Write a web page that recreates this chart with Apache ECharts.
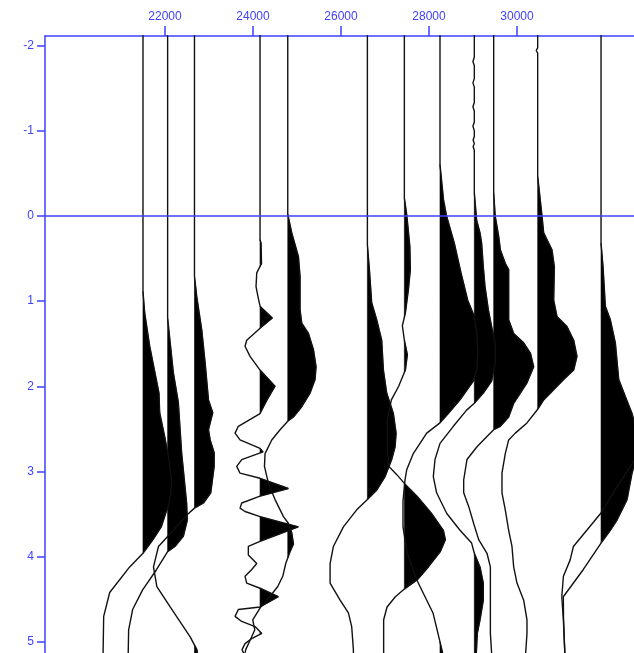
<!DOCTYPE html>
<html><head><meta charset="utf-8">
<script src="https://cdn.jsdelivr.net/npm/echarts@6/dist/echarts.min.js"></script>
<style>html,body{margin:0;padding:0;background:#fff}#c{width:634px;height:653px}</style>
</head><body><div id="c"></div>
<script>
// Axis tick labels
const xTickLabels = [22000, 24000, 26000, 28000, 30000];
const yTickLabels = [-2, -1, 0, 1, 2, 3, 4, 5];
// Trace positions (offset units) and amplitude gain (offset units per amplitude unit)
const traceOffsets = [21500, 22060, 22670, 24160, 24790, 26600, 27440, 28250, 29030, 29470, 30470, 31910, 33200];
const gain = 22.73;
// Each trace: [time, amplitude]
const trace1 = [[-2.2,0],[0.89,0],[1.14,1.7],[1.53,6.7],[1.92,13.3],[2.08,16],[2.31,16.7],[2.59,21.7],[2.86,26],[3.13,29],[3.39,26],[3.47,23.3],[3.65,18.3],[3.80,10],[3.96,0],[4.12,-13.3],[4.42,-33.3],[4.70,-39.3],[5.2,-40]];
const trace2 = [[-2.2,0],[1.20,0],[1.46,2.3],[1.84,5.7],[2.19,10.7],[2.78,14],[3.37,19],[3.57,19.7],[3.76,15.7],[3.88,7.3],[3.94,0],[4.15,-11],[4.39,-25],[4.62,-35],[4.86,-39],[5.2,-39.5]];
const trace3 = [[-2.2,0],[0.71,0],[0.95,2.3],[1.34,7.3],[1.73,10.7],[2.16,14],[2.31,18.3],[2.51,14],[2.63,15.7],[2.78,19.7],[2.94,19.7],[3.25,16.3],[3.37,9],[3.43,0],[3.51,-7.6],[3.76,-26.6],[3.88,-36],[4.12,-41],[4.35,-37.6],[4.59,-24.3],[4.94,-4.3],[5.09,2.4],[5.2,4]];
const trace4 = [[-2.2,0],[0.28,0],[0.32,1],[0.56,1.5],[0.67,-3.3],[0.83,-4],[0.95,-2],[1.06,0],[1.20,12.3],[1.32,0],[1.46,-13.3],[1.53,-15],[1.65,-10],[1.81,0],[2.0,15],[2.16,7],[2.32,0],[2.47,-21.7],[2.55,-25],[2.63,-20],[2.73,0],[2.77,3],[2.86,-18.3],[2.94,-23.3],[3.02,-20],[3.08,0],[3.20,28.3],[3.29,0],[3.37,-18.3],[3.43,-20],[3.47,-15],[3.53,0],[3.65,38.3],[3.82,0],[3.88,-11.7],[3.98,-11.7],[4.08,-3.3],[4.15,-8.3],[4.23,-15],[4.31,-13.3],[4.37,0],[4.47,18.3],[4.59,0],[4.62,-21.7],[4.70,-25],[4.76,-18.3],[4.82,-5],[4.90,1.7],[4.96,-8.3],[5.02,-15],[5.09,-18],[5.2,-14]];
const trace5 = [[-2.2,0],[-0.02,0],[0.2,4],[0.48,10.7],[0.71,12.3],[1.10,12.3],[1.26,14],[1.38,20.7],[1.57,25.7],[1.77,28.3],[1.92,27.3],[2.08,22.3],[2.24,14],[2.36,5.7],[2.41,0],[2.51,-7.7],[2.63,-16],[2.79,-22.7],[2.94,-23.3],[3.14,-19.3],[3.33,-12.7],[3.53,-4.3],[3.61,0.7],[3.72,4],[3.85,5.7],[3.95,2],[4.08,-2],[4.23,-5],[4.35,-10],[4.47,-18],[4.59,-27],[4.74,-35],[4.86,-33],[4.98,-37.7],[5.09,-42],[5.2,-44]];
const trace6 = [[-2.2,0],[0.34,0],[0.63,2],[1.02,4.3],[1.22,9.3],[1.46,14.3],[1.81,16],[2.08,19.3],[2.32,26],[2.55,28.7],[2.71,27.7],[2.86,24.3],[3.06,17.7],[3.22,9.3],[3.33,0],[3.45,-10.7],[3.65,-24],[3.88,-34],[4.08,-37.3],[4.31,-37.3],[4.51,-27.3],[4.66,-19],[4.82,-15.7],[5.09,-14],[5.2,-14]];
const trace7 = [[-2.2,0],[-0.21,0],[0,2.5],[0.36,5.5],[0.63,6],[0.87,4],[1.14,1],[1.29,-2],[1.46,0],[1.63,3],[1.81,1],[2.0,-5.7],[2.16,-13],[2.39,-17],[2.71,-17],[2.94,-15.7],[3.04,-7.3],[3.14,0],[3.29,12.7],[3.49,27],[3.69,39],[3.80,41],[3.94,36],[4.12,24],[4.27,13],[4.38,0],[4.47,-9],[4.59,-17.3],[4.74,-20.7],[5.2,-20.7]];
const trace8 = [[-2.2,0],[-0.6,0],[-0.19,3.5],[0,6.5],[0.32,14.3],[0.67,21],[0.99,27.7],[1.18,34.3],[1.4,37],[1.6,38],[1.8,37],[1.94,33.3],[2.16,20],[2.32,8.3],[2.43,0],[2.55,-13.3],[2.79,-26.7],[2.98,-33.3],[3.10,-35],[3.35,-37],[3.65,-37],[3.95,-33],[4.27,-23.3],[4.66,-7],[5.0,0],[5.2,4]];
const trace9 = [[-2.2,0],[-1.86,0],[-1.81,-1.4],[-1.76,0],[-1.61,0],[-1.56,-1.4],[-1.51,0],[-1.33,0],[-1.28,-1.4],[-1.23,0],[-1.10,0],[-1.05,-1.4],[-1.00,0],[-0.93,0],[-0.89,-1.2],[-0.85,0],[-0.81,-1.2],[-0.77,0],[-0.27,0],[0.05,2.3],[0.2,5.7],[0.32,7.3],[0.6,9],[0.83,10.7],[1.10,14],[1.30,17.3],[1.5,21],[1.72,21],[1.94,17.3],[2.08,9],[2.2,0],[2.28,-7.7],[2.47,-21],[2.67,-34.3],[2.86,-39.3],[3.06,-41],[3.25,-37.7],[3.49,-27.7],[3.69,-14.3],[3.84,-2.7],[3.96,0],[4.12,5.7],[4.31,9],[4.51,9],[4.74,5.7],[4.9,3],[5.2,1.7]];
const trace10 = [[-2.2,0],[-0.27,0],[0,1.5],[0.24,5],[0.4,6.7],[0.56,11.7],[0.63,15],[0.99,15],[1.22,15],[1.38,20],[1.49,30],[1.61,36.7],[1.77,40],[1.96,33.3],[2.08,26.7],[2.2,20],[2.36,15],[2.47,6.7],[2.51,0],[2.59,-6.7],[2.71,-16.7],[2.86,-26.7],[3.1,-30],[3.25,-30],[3.41,-25],[3.61,-20],[3.8,-15],[3.96,-6.7],[4.12,-3.3],[4.51,-3.3],[4.9,-3.3],[5.2,-1.7]];
const trace11 = [[-2.2,0],[-1.97,0],[-1.94,-1.5],[-1.91,0],[-0.46,0],[-0.25,2],[0,4.3],[0.2,6],[0.4,14.3],[0.6,16.7],[0.99,16],[1.18,19.3],[1.3,29.3],[1.46,36],[1.65,39.3],[1.81,36],[1.92,26],[2.04,16],[2.16,6],[2.27,0],[2.43,-10.7],[2.55,-22.4],[2.63,-29],[2.79,-32.4],[3.02,-35.7],[3.25,-35.7],[3.45,-32.4],[3.69,-29],[3.88,-25.7],[4.12,-24],[4.31,-20.7],[4.51,-14],[4.74,-10.7],[4.9,-10.7],[5.2,-12.4]];
const trace12 = [[-2.2,0],[0.32,0],[0.6,2],[1.06,4.3],[1.22,9.3],[1.49,14.3],[1.92,17.7],[2.12,24.3],[2.32,31],[2.5,35],[2.65,37],[2.85,35],[3.02,31],[3.33,26],[3.57,16],[3.69,9.3],[3.84,0],[4.15,-17.7],[4.47,-37.7],[4.74,-37.5],[5.2,-36]];
const trace13 = [[-2.2,0],[2.0,0],[2.5,-8],[2.9,-25],[3.2,-42],[3.49,-57],[3.69,-71],[3.88,-84.4],[4.04,-87.7],[4.23,-94.4],[4.47,-96],[4.74,-94.4],[5.2,-92.7]];
const traces = [trace1, trace2, trace3, trace4, trace5, trace6, trace7, trace8, trace9, trace10, trace11, trace12, trace13];

const blue = '#4040ff';

function positiveLobes(base, s) {
  const polys = [];
  let cur = null;
  for (let i = 0; i < s.length; i++) {
    const t = s[i][0], a = s[i][1];
    if (i > 0) {
      const t0 = s[i - 1][0], a0 = s[i - 1][1];
      if ((a0 > 0) !== (a > 0)) {
        const tc = t0 + (t - t0) * (0 - a0) / (a - a0);
        if (cur) { cur.push([base, tc]); polys.push(cur); cur = null; }
        else { cur = [[base, tc]]; }
      }
    }
    if (a > 0) {
      if (!cur) cur = [[base, t]];
      cur.push([base + a * gain, t]);
    }
  }
  if (cur) { cur.push([base, s[s.length - 1][0]]); polys.push(cur); }
  return polys;
}

const series = [];
traces.forEach((s, i) => {
  const base = traceOffsets[i];
  const polys = positiveLobes(base, s);
  series.push({
    type: 'custom', coordinateSystem: 'cartesian2d', clip: true, silent: true, z: 2,
    data: [[base, 0]],
    renderItem: (params, api) => ({
      type: 'group',
      children: polys.map(p => ({
        type: 'polygon',
        shape: { points: p.map(q => api.coord(q)) },
        style: { fill: '#000', stroke: '#000', lineWidth: 0.6 }
      }))
    })
  });
  series.push({
    type: 'line', data: s.map(d => [base + d[1] * gain, d[0]]),
    showSymbol: false, symbol: 'none', clip: true, silent: true, z: 3,
    lineStyle: { color: '#111', width: 1.4 }
  });
});
series.push({
  type: 'line', data: [], z: 10, silent: true,
  markLine: {
    silent: true, symbol: 'none', label: { show: false },
    lineStyle: { color: blue, width: 1.5, type: 'solid' },
    data: [{ yAxis: 0 }]
  }
});

const chart = echarts.init(document.getElementById('c'), null, { renderer: 'canvas' });
chart.setOption({
  animation: false,
  backgroundColor: '#fff',
  grid: { left: 45, top: 36, right: 0, bottom: 0, containLabel: false },
  xAxis: {
    type: 'value', position: 'top', min: 19273, max: 32659,
    axisLine: { show: true, onZero: false, lineStyle: { color: blue, width: 1.5 } },
    axisTick: { show: true, length: 10, customValues: xTickLabels, lineStyle: { color: blue, width: 1.5 } },
    axisLabel: { customValues: xTickLabels, formatter: v => String(v), color: blue, fontSize: 12, fontFamily: 'Liberation Sans, Arial, sans-serif', margin: 13 },
    splitLine: { show: false }
  },
  yAxis: {
    type: 'value', inverse: true, min: -2.11, max: 5.13,
    axisLine: { show: true, onZero: false, lineStyle: { color: blue, width: 1.5 } },
    axisTick: { show: true, length: 8, customValues: yTickLabels, lineStyle: { color: blue, width: 1.5 } },
    axisLabel: { customValues: yTickLabels, formatter: v => String(v), color: blue, fontSize: 12, fontFamily: 'Liberation Sans, Arial, sans-serif', margin: 11 },
    splitLine: { show: false }
  },
  series: series
});
</script>
</body></html>
